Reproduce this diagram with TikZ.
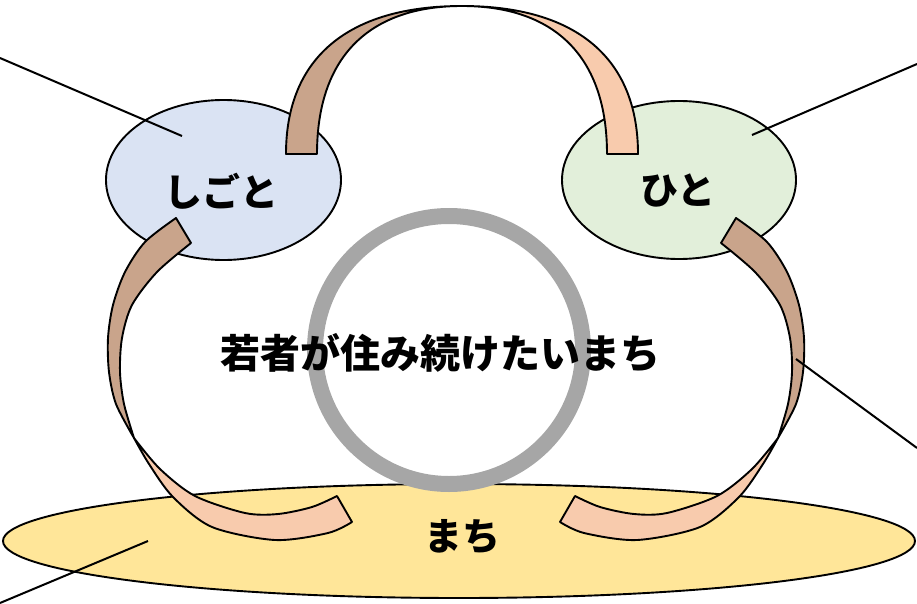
\documentclass[tikz,border=0pt]{standalone}
\usepackage{fontspec}
\newfontfamily\jp{Noto Sans CJK JP}
\usetikzlibrary{shapes.geometric}
\definecolor{bandbrown}{HTML}{C9A48B}
\definecolor{bandpeach}{HTML}{F8CBAD}
\definecolor{bluefill}{HTML}{DAE3F3}
\definecolor{greenfill}{HTML}{E2EFDA}
\definecolor{yellowfill}{HTML}{FFE699}
\definecolor{ringgray}{HTML}{A6A6A6}
\tikzset{
  outline/.style={draw=black, line width=1.9pt, line join=round},
  bubble/.style={ellipse, outline, inner sep=0pt},
  lbl/.style={font=\jp\bfseries\fontsize{38}{40}\selectfont, inner sep=0pt},
  mainlbl/.style={font=\jp\bfseries\fontsize{40}{42}\selectfont, inner sep=0pt},
  callout/.style={draw=black, line width=2pt},
  brownpart/.style={outline, fill=bandbrown},
  peachpart/.style={outline, fill=bandpeach},
}
\newcommand{\sidebandshape}{%
  \filldraw[brownpart] plot[smooth] coordinates {(176,218) (145,242) (125,272) (113,305) (108,338) (109,372) (116,404) (134,438)}
    -- plot[smooth] coordinates {(134,438) (124,404) (120,372) (122,338) (132,305) (157,272) (191,243)} -- cycle;
  \filldraw[peachpart] plot[smooth] coordinates {(134,438) (160,469) (195,496) (245,513) (278,514) (312,507) (337,496)}
    -- plot[smooth] coordinates {(352,522) (328,533) (275,540) (212,527) (173,497) (149,464) (134,438)} -- cycle;
}
\begin{document}
\begin{tikzpicture}[x=1pt, y=-1pt]
\useasboundingbox (0,0) rectangle (917,604);
% base ellipses
\node[bubble, fill=yellowfill, minimum width=912pt, minimum height=114pt] (machi) at (459,541) {};
\node[bubble, fill=bluefill, minimum width=235pt, minimum height=160pt] (shigoto) at (223.5,180) {};
\node[bubble, fill=greenfill, minimum width=234pt, minimum height=158pt] (hito) at (679,180) {};
% ring
\node[circle, draw=ringgray, line width=16pt, minimum size=268pt, inner sep=0pt] (ring) at (449,350) {};
\node[mainlbl] (mainText) at (440,353) {若者が住み続けたいまち};
% top band
\filldraw[peachpart] (638,154) .. controls (638,58) and (576,6) .. (462,6)
   .. controls (556,6) and (607,58) .. (607,154) -- cycle;
\filldraw[brownpart] (286,154) .. controls (286,58) and (348,6) .. (462,6)
   .. controls (368,6) and (317,58) .. (317,154) -- cycle;
% side bands
\sidebandshape
\begin{scope}[xshift=912pt, xscale=-1]
\sidebandshape
\end{scope}
% labels
\node[lbl] (shigotoText) at (221,191) {しごと};
\node[lbl] (hitoText) at (678,190) {ひと};
\node[lbl] (machiText) at (462,537) {まち};
% callout lines
\coordinate (c1a) at (182,136); \coordinate (c1b) at (0,58);
\coordinate (c2a) at (752,135); \coordinate (c2b) at (917,64);
\coordinate (c3a) at (796,359); \coordinate (c3b) at (917,448);
\coordinate (c4a) at (148,541); \coordinate (c4b) at (0,603);
\draw[callout] (c1a) -- (c1b);
\draw[callout] (c2a) -- (c2b);
\draw[callout] (c3a) -- (c3b);
\draw[callout] (c4a) -- (c4b);
\end{tikzpicture}
\end{document}
